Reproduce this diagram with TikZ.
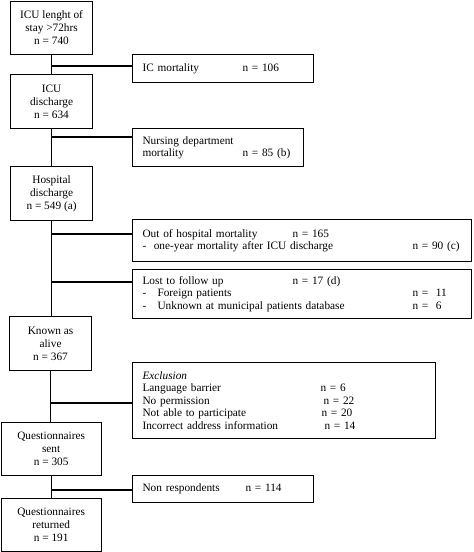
\documentclass[tikz,border=0pt]{standalone}
\usepackage{fontspec}
\setmainfont{Liberation Serif}
\begin{document}
\begin{tikzpicture}[x=1pt,y=-1pt,
  every node/.style={font=\fontsize{11.3}{13}\selectfont},
  lbox/.style={draw, line width=1.1pt, anchor=north west, align=center, inner sep=1pt},
  rbox/.style={draw, line width=1.1pt, anchor=north west, align=left, inner xsep=10pt, inner ysep=1pt, font=\fontsize{11.3}{12.5}\selectfont},
  conn/.style={line width=1.1pt}]
\useasboundingbox (0,0) rectangle (474,552);
% main column
\node[lbox, minimum width=82pt, minimum height=53pt] (b1) at (10,1) {ICU lenght of\\stay >72hrs\\n = 740};
\node[lbox, minimum width=82pt, minimum height=54pt] (b2) at (10,74) {ICU\\discharge\\n = 634};
\node[lbox, minimum width=82pt, minimum height=54pt] (b3) at (10,166) {Hospital\\discharge\\n = 549 (a)};
\node[lbox, minimum width=82pt, minimum height=54pt] (b4) at (9,316) {Known as\\alive\\n = 367};
\node[lbox, minimum width=100pt, minimum height=53pt] (b5) at (0.6,422) {Questionnaires\\sent\\n = 305};
\node[lbox, minimum width=100pt, minimum height=53pt] (b6) at (0.6,498) {Questionnaires\\returned\\n = 191};
% side boxes
\node[rbox, text width=161pt, minimum height=28pt] (ic) at (132,54) {\makebox[100pt][l]{IC mortality}n = 106};
\node[rbox, text width=151pt, minimum height=38pt] (nd) at (132,128) {Nursing department\\\makebox[100pt][l]{mortality}n = 85 (b)};
\node[rbox, text width=319pt, minimum height=42pt] (oh) at (132,219) {\makebox[150pt][l]{Out of hospital mortality}n = 165\\\makebox[270pt][l]{-\ \ one-year mortality after ICU discharge}n = 90 (c)};
\node[rbox, text width=319pt, minimum height=49pt] (lf) at (132,269) {\makebox[150pt][l]{Lost to follow up}n = 17 (d)\\\makebox[15pt][l]{-}\makebox[255pt][l]{Foreign patients}n =\ \ 11\\\makebox[15pt][l]{-}\makebox[255pt][l]{Unknown at municipal patients database}n =\ \ 6};
\node[rbox, text width=283pt, minimum height=76pt] (ex) at (132,362) {\textit{Exclusion}\\\makebox[178pt][l]{Language barrier}n = 6\\\makebox[181pt][l]{No permission}n = 22\\\makebox[179pt][l]{Not able to participate}n = 20\\\makebox[182pt][l]{Incorrect address information}n = 14};
\node[rbox, text width=161pt, minimum height=27pt] (nr) at (132,475) {\makebox[103pt][l]{Non respondents}n = 114};
% vertical connectors
\draw[conn] (b1.south) -- (b1.south |- b2.north);
\draw[conn] (b2.south) -- (b2.south |- b3.north);
\draw[conn] (b3.south) -- (b3.south |- b4.north);
\draw[conn] (b4.south) -- (b4.south |- b5.north);
\draw[conn] (b5.south) -- (b5.south |- b6.north);
% branch connectors
\coordinate (j1) at (51,66);
\coordinate (j2) at (51,137);
\coordinate (j3) at (51,234);
\coordinate (j4) at (51,282);
\coordinate (j5) at (51,403);
\coordinate (j6) at (51,490);
\draw[conn] (j1) -- (j1 -| ic.west);
\draw[conn] (j2) -- (j2 -| nd.west);
\draw[conn] (j3) -- (j3 -| oh.west);
\draw[conn] (j4) -- (j4 -| lf.west);
\draw[conn] (j5) -- (j5 -| ex.west);
\draw[conn] (j6) -- (j6 -| nr.west);
\end{tikzpicture}
\end{document}
